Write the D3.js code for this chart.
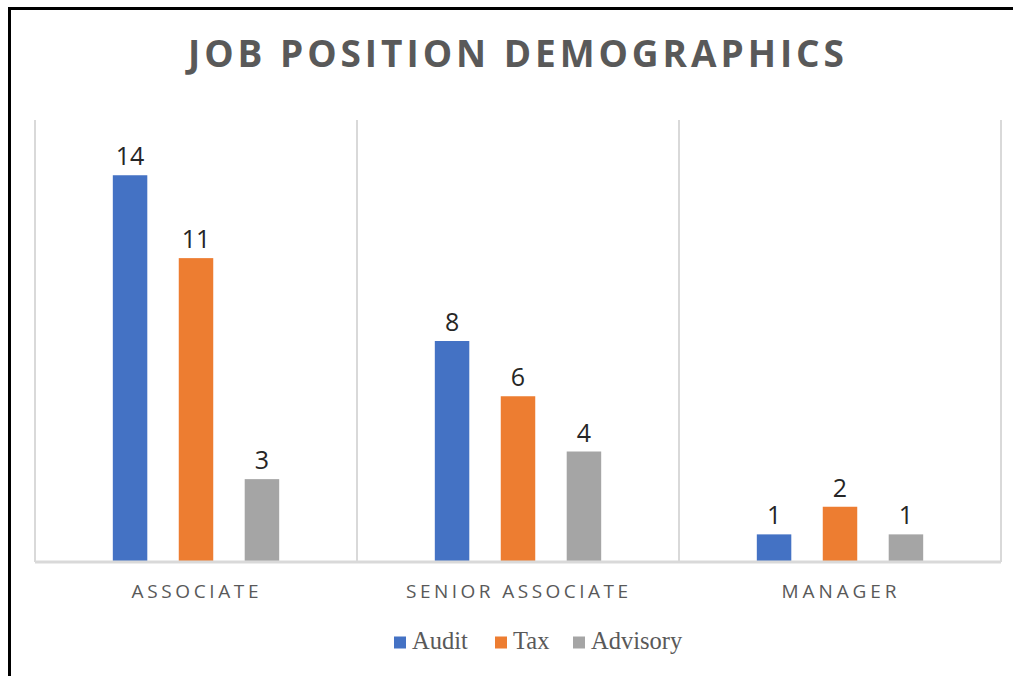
<!DOCTYPE html>
<html>
<head>
<meta charset="utf-8">
<script src="https://cdn.jsdelivr.net/npm/d3@7"></script>
<style>
  body { margin: 0; background: #fff; }
  svg { display: block; }
</style>
</head>
<body>
<svg id="chart" width="1013" height="676"></svg>
<script>
const title = "JOB POSITION DEMOGRAPHICS";
const categories = ["ASSOCIATE", "SENIOR ASSOCIATE", "MANAGER"];
const seriesNames = ["Audit", "Tax", "Advisory"];
const audit = [14, 8, 1];
const tax = [11, 6, 2];
const advisory = [3, 4, 1];
const colours = ["#4472C4", "#ED7D31", "#A5A5A5"];

const values = [audit, tax, advisory];
const rows = categories.map((c, i) => ({
  cat: c,
  bars: seriesNames.map((s, j) => ({ series: s, value: values[j][i] }))
}));

const svg = d3.select("#chart");
const margin = { top: 120, left: 35, right: 12, bottom: 114 };
const width = 1013 - margin.left - margin.right;
const height = 676 - margin.top - margin.bottom;

// outer frame
svg.append("rect")
  .attr("x", 9.5).attr("y", 8.5)
  .attr("width", 1100).attr("height", 800)
  .attr("fill", "none").attr("stroke", "#000").attr("stroke-width", 3);

svg.append("text")
  .attr("x", 516).attr("y", 66.5)
  .attr("text-anchor", "middle")
  .attr("font-family", "'Open Sans', sans-serif")
  .attr("font-weight", "bold")
  .attr("font-size", 37)
  .attr("fill", "#595959")
  .attr("textLength", 656)
  .attr("lengthAdjust", "spacing")
  .text(title);

const x = d3.scaleBand().domain(categories).range([0, width]);
const xs = d3.scaleBand().domain(seriesNames).range([0, x.bandwidth()])
  .paddingInner(0.477).paddingOuter(1.18);
const y = d3.scaleLinear().domain([0, 16]).range([height, 0]);

const g = svg.append("g").attr("transform", `translate(${margin.left},${margin.top})`);

// vertical separators
g.selectAll("line.sep")
  .data(d3.range(categories.length + 1))
  .join("line")
  .attr("class", "sep")
  .attr("x1", i => i * x.step()).attr("x2", i => i * x.step())
  .attr("y1", 0).attr("y2", height)
  .attr("stroke", "#d9d9d9").attr("stroke-width", 2);

const groups = g.selectAll("g.cat").data(rows).join("g")
  .attr("class", "cat")
  .attr("transform", d => `translate(${x(d.cat)},0)`);

groups.selectAll("rect").data(d => d.bars).join("rect")
  .attr("x", d => xs(d.series))
  .attr("width", xs.bandwidth())
  .attr("y", d => y(d.value))
  .attr("height", d => height - y(d.value))
  .attr("fill", (d, i) => colours[i]);

groups.selectAll("text.val").data(d => d.bars).join("text")
  .attr("class", "val")
  .attr("x", d => xs(d.series) + xs.bandwidth() / 2)
  .attr("y", d => y(d.value) - 10)
  .attr("text-anchor", "middle")
  .attr("font-family", "'Open Sans', sans-serif")
  .attr("font-size", 25)
  .attr("fill", "#262626")
  .text(d => d.value);

// baseline
g.append("line")
  .attr("x1", 0).attr("x2", width)
  .attr("y1", height).attr("y2", height)
  .attr("stroke", "#d9d9d9").attr("stroke-width", 3);

// category labels
const labelWidths = [127, 222, 115];
g.selectAll("text.cat").data(categories).join("text")
  .attr("class", "cat")
  .attr("x", d => x(d) + x.bandwidth() / 2 - 1)
  .attr("y", height + 36)
  .attr("text-anchor", "middle")
  .attr("font-family", "'Open Sans', sans-serif")
  .attr("font-size", 19)
  .attr("fill", "#595959")
  .attr("textLength", (d, i) => labelWidths[i])
  .attr("lengthAdjust", "spacing")
  .text(d => d);

// legend
const legendX = [394, 495, 573];
const legend = svg.append("g").selectAll("g").data(seriesNames).join("g")
  .attr("transform", (d, i) => `translate(${legendX[i]},636.5)`);
legend.append("rect")
  .attr("width", 12).attr("height", 12)
  .attr("fill", (d, i) => colours[i]);
legend.append("text")
  .attr("x", 18).attr("y", 12.5)
  .attr("font-family", "'Liberation Serif', 'Times New Roman', serif")
  .attr("font-size", 24.5)
  .attr("fill", "#595959")
  .text(d => d);
</script>
</body>
</html>
